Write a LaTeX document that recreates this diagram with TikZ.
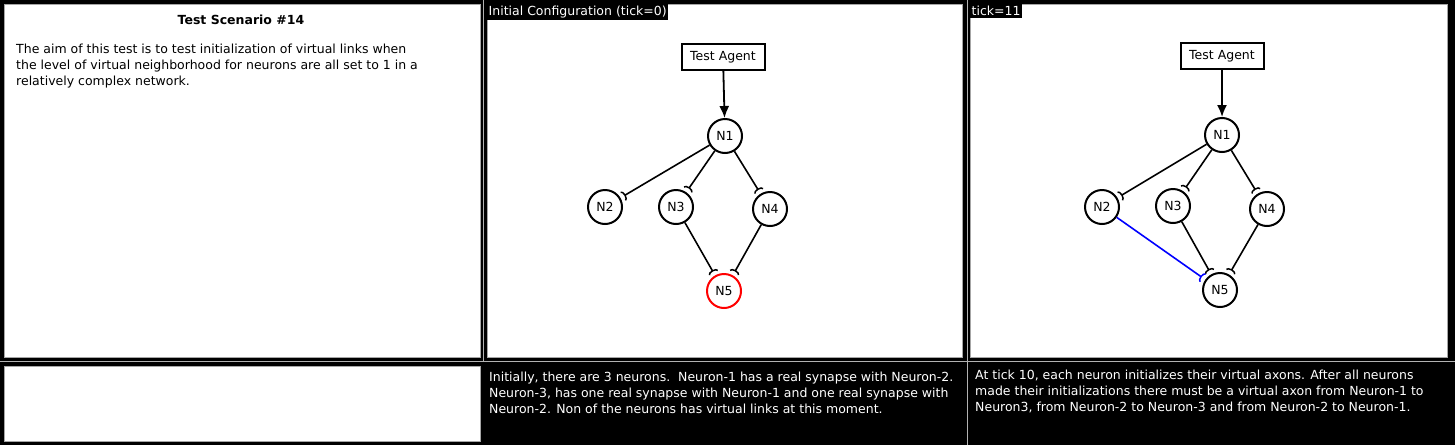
\documentclass[tikz,border=0pt]{standalone}
\usepackage{fontspec}
\setmainfont{DejaVu Sans}
\usetikzlibrary{arrows.meta, positioning, calc}

\tikzset{
  panel/.style={fill=white, draw=gray!70, line width=0.8pt},
  tag/.style={fill=black, text=white, inner xsep=1.5pt, inner ysep=2pt, anchor=north west, font=\fontsize{12.5}{14}\selectfont},
  note/.style={inner sep=0pt, anchor=north west, align=left, font=\fontsize{12.5}{16}\selectfont},
  neuron/.style={circle, draw, line width=2pt, minimum size=34pt, inner sep=0pt, fill=white, font=\fontsize{12.5}{14}\selectfont},
  agent/.style={draw, line width=2pt, minimum width=83pt, minimum height=26pt, inner sep=2pt, fill=white, font=\fontsize{12.5}{14}\selectfont},
  feed/.style={draw, line width=1.8pt, -{Latex[length=12pt,width=10pt]}},
  synapse/.style={draw, line width=1.6pt, -{Arc Barb[reversed,length=3pt,width=11pt,line width=1.5pt]}, shorten >=3pt},
  virtual/.style={synapse, draw=blue}
}

\begin{document}
\begin{tikzpicture}[x=1pt, y=-1pt]
\useasboundingbox (0,0) rectangle (1455,445);
\fill[black] (0,0) rectangle (1455,445);

\draw[gray!60, line width=0.8pt] (0,361.5) -- (1455,361.5);
\draw[gray!60, line width=0.8pt] (483.5,0) -- (483.5,361.5);
\draw[gray!60, line width=0.8pt] (967,0) -- (967,445);

\draw[panel] (4,4) rectangle (480.5,357.5);
\draw[panel] (487,4) rectangle (962.5,357.5);
\draw[panel] (970,4) rectangle (1447.5,357.5);
\draw[panel] (4,366) rectangle (480.5,441);

\node[font=\fontsize{12.5}{14}\selectfont\bfseries] (title) at (241,20) {Test Scenario \#14};
\node[note] (aim) at (16,43.5) {The aim of this test is to test initialization of virtual links when\\
the level of virtual neighborhood for neurons are all set to 1 in a\\
relatively complex network.};

\node[tag] (lbl0) at (487,4) {Initial Configuration (tick=0)};
\node[tag] (lbl11) at (970,4) {tick=11};

\node[agent] (agent0) at (723,57) {Test Agent};
\node[neuron] (n1a) at (725,136) {N1};
\node[neuron] (n2a) at (605,207) {N2};
\node[neuron] (n3a) at (676,207) {N3};
\node[neuron] (n4a) at (770,209) {N4};
\node[neuron, draw=red] (n5a) at (724,291) {N5};

\draw[feed] (agent0) -- (n1a);
\draw[synapse] (n1a) -- (n2a);
\draw[synapse] (n1a) -- (n3a);
\draw[synapse] (n1a) -- (n4a);
\draw[synapse] (n3a) -- (n5a);
\draw[synapse] (n4a) -- (n5a);

\node[agent] (agent11) at (1222,56) {Test Agent};
\node[neuron] (n1b) at (1222,135) {N1};
\node[neuron] (n2b) at (1102,207) {N2};
\node[neuron] (n3b) at (1173,206) {N3};
\node[neuron] (n4b) at (1267,209) {N4};
\node[neuron] (n5b) at (1220,290) {N5};

\draw[feed] (agent11) -- (n1b);
\draw[synapse] (n1b) -- (n2b);
\draw[synapse] (n1b) -- (n3b);
\draw[synapse] (n1b) -- (n4b);
\draw[synapse] (n3b) -- (n5b);
\draw[synapse] (n4b) -- (n5b);
\draw[virtual] (n2b) -- (n5b);

\node[note, text=white] (desc0) at (489,371.5) {Initially, there are 3 neurons.\ \ Neuron-1 has a real synapse with Neuron-2.\\
Neuron-3, has one real synapse with Neuron-1 and one real synapse with\\
Neuron-2. Non of the neurons has virtual links at this moment.};
\node[note, text=white] (desc11) at (975,370) {At tick 10, each neuron initializes their virtual axons. After all neurons\\
made their initializations there must be a virtual axon from Neuron-1 to\\
Neuron3, from Neuron-2 to Neuron-3 and from Neuron-2 to Neuron-1.};
\end{tikzpicture}
\end{document}
